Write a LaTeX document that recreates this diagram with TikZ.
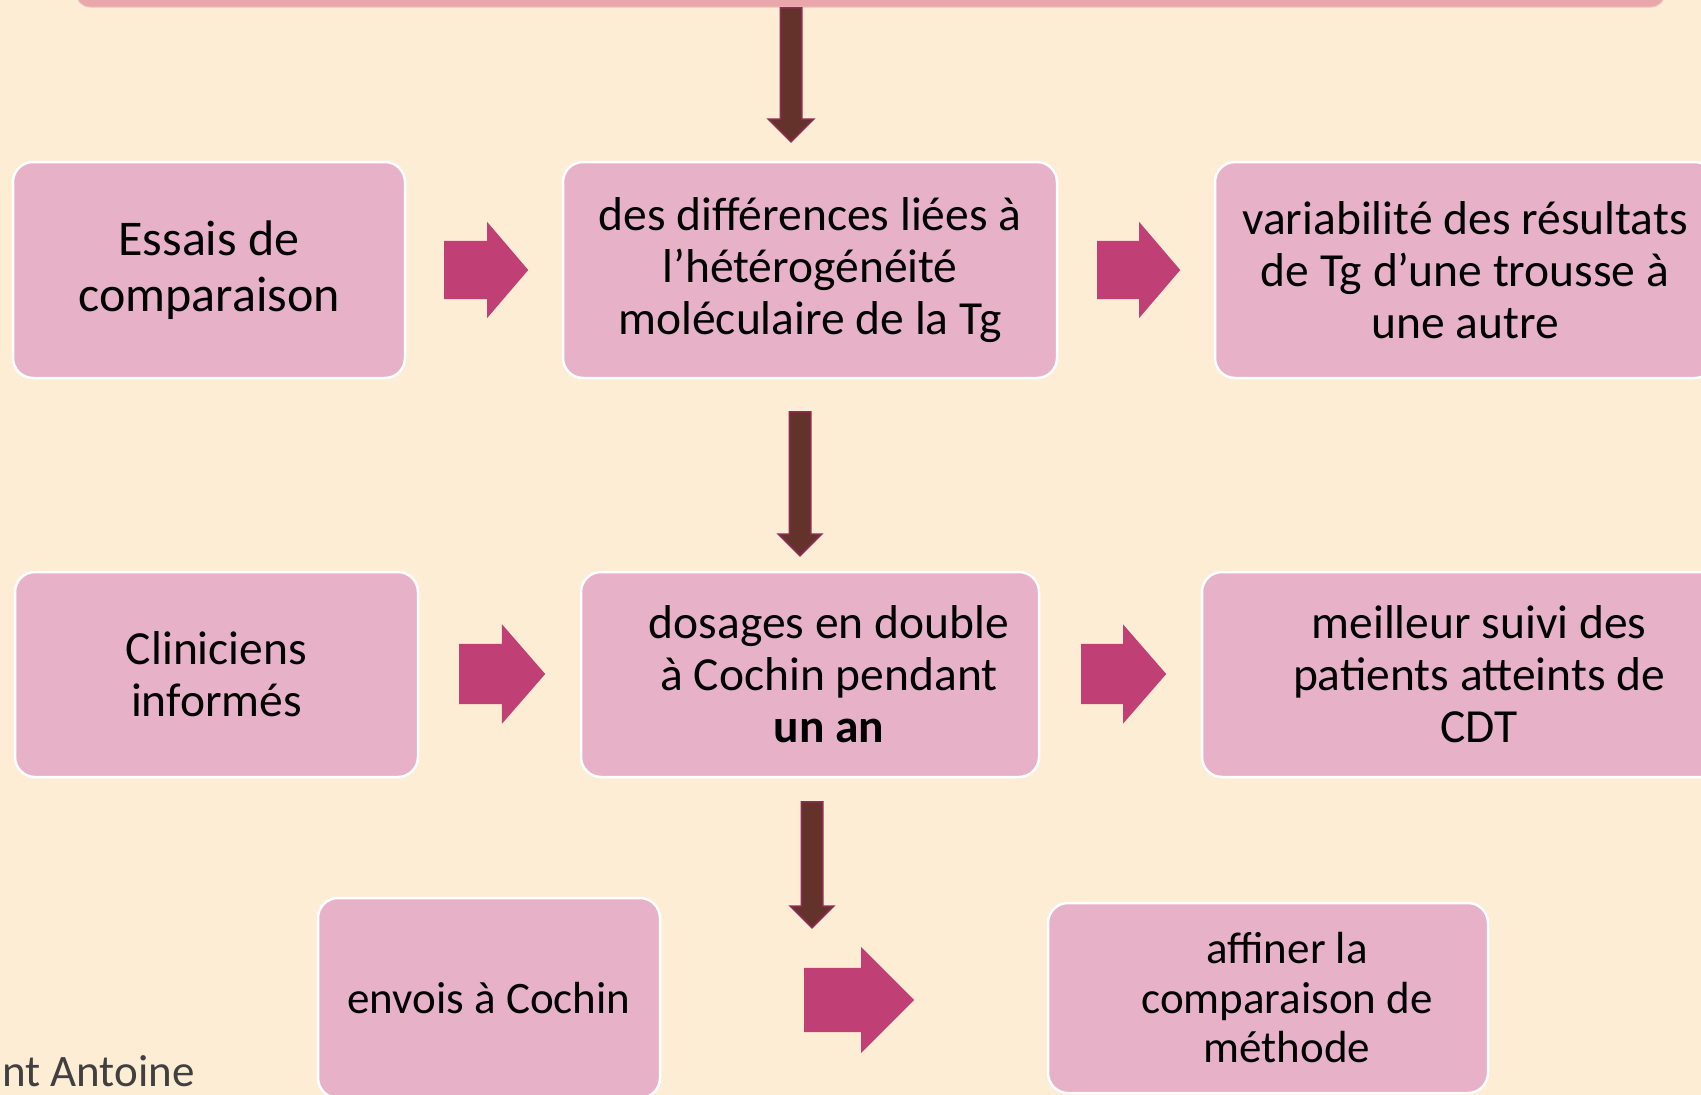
\documentclass[tikz,border=0pt]{standalone}
\usepackage{fontspec}
\setmainfont{Carlito}
\usepackage{xcolor}
\usetikzlibrary{shapes.arrows,positioning}

\begin{document}
\begin{tikzpicture}[x=1pt, y=-1pt]
    % Color Palette
    \definecolor{fondColor}{HTML}{FEF3DA}
    \definecolor{fondBord}{HTML}{FDEDD5}
    \definecolor{boiteColor}{HTML}{E7B1C8}
    \definecolor{barreColor}{HTML}{E9A7AB}
    \definecolor{roseColor}{HTML}{C03F74}
    \definecolor{bruneColor}{HTML}{63322B}
    \definecolor{bruneBord}{HTML}{8E2C55}
    \definecolor{piedColor}{HTML}{404040}

    \tikzset{
        boite/.style={draw=white, line width=2.5pt, fill=boiteColor, rounded corners=20pt, align=center, inner sep=0pt},
        texteL/.style={font=\fontsize{50}{56}\selectfont},
        texteM/.style={font=\fontsize{47.5}{52}\selectfont},
        texteS/.style={font=\fontsize{45}{49.5}\selectfont},
        flecheRose/.style={single arrow, fill=roseColor, anchor=tail, inner xsep=0pt, single arrow head indent=0pt},
        flecheBrune/.style={single arrow, fill=bruneColor, draw=bruneBord, line width=1.5pt, anchor=tail, inner xsep=10pt, inner ysep=0pt, shape border rotate=270, single arrow head indent=0pt, single arrow tip angle=90}
    }

    \useasboundingbox (0,0) rectangle (1701,1095);
    \clip (0,0) rectangle (1701,1095);
    \shade[left color=fondBord, middle color=fondColor, right color=fondBord] (0,0) rectangle (1701,1095);

    % --- Top banner (cut off) ---
    \node[fill=barreColor, draw=barreColor!70!white, line width=1pt, rounded corners=14pt, minimum width=1589pt, minimum height=120pt] (bandeau) at (870.5,-53) {};

    % --- Row 1 ---
    \node[boite, texteL, minimum width=392pt, minimum height=216pt] (essais) at (209,270) {Essais de\\comparaison};
    \node[boite, texteM, minimum width=494pt, minimum height=216pt] (differences) at (810,270) {des différences liées à\\l’hétérogénéité\\moléculaire de la Tg};
    \node[boite, texteM, minimum width=500pt, minimum height=216pt] (variabilite) at (1465,270) {variabilité des résultats\\de Tg d’une trousse à\\une autre};

    \node[flecheRose, inner ysep=29pt, minimum height=84pt, single arrow head extend=19pt, single arrow tip angle=99] (p1) at (444,270) {};
    \node[flecheRose, inner ysep=29pt, minimum height=83pt, single arrow head extend=19pt, single arrow tip angle=99] (p2) at (1097,270) {};

    % --- Row 2 ---
    \node[boite, texteM, minimum width=403pt, minimum height=205pt] (cliniciens) at (216.5,674.5) {Cliniciens\\informés};
    \node[boite, texteM, minimum width=458pt, minimum height=205pt] (dosages) at (810,674.5) {\hspace*{38pt}dosages en double\\\hspace*{38pt}à Cochin pendant\\\hspace*{38pt}\textbf{un an}};
    \node[boite, texteM, minimum width=554pt, minimum height=205pt] (suivi) at (1479,674.5) {meilleur suivi des\\patients atteints de\\CDT};

    \node[flecheRose, inner ysep=30pt, minimum height=86pt, single arrow head extend=19.5pt, single arrow tip angle=98] (p3) at (459,674) {};
    \node[flecheRose, inner ysep=30pt, minimum height=85pt, single arrow head extend=19.5pt, single arrow tip angle=98] (p4) at (1081,674) {};

    % --- Row 3 ---
    \node[boite, texteS, minimum width=342pt, minimum height=200pt] (envois) at (489,998) {envois à Cochin};
    \node[boite, texteS, minimum width=440pt, minimum height=190pt] (affiner) at (1268,998) {\hspace*{38pt}affiner la\\\hspace*{38pt}comparaison de\\\hspace*{38pt}méthode};

    \node[flecheRose, inner ysep=32pt, minimum height=110pt, single arrow head extend=21pt, single arrow tip angle=90] (p5) at (804,1000) {};

    % Down arrows
    \node[flecheBrune, minimum height=134pt, single arrow head extend=12pt] (f1) at (791,7) {};
    \node[flecheBrune, minimum height=144pt, single arrow head extend=11pt] (f2) at (800,411) {};
    \node[flecheBrune, minimum height=126pt, single arrow head extend=11pt] (f3) at (812,801) {};

    % Footer
    \node[anchor=base west, inner sep=0pt, text depth=0pt, text=piedColor, texteS] (pied) at (2,1086) {nt Antoine};

\end{tikzpicture}
\end{document}
